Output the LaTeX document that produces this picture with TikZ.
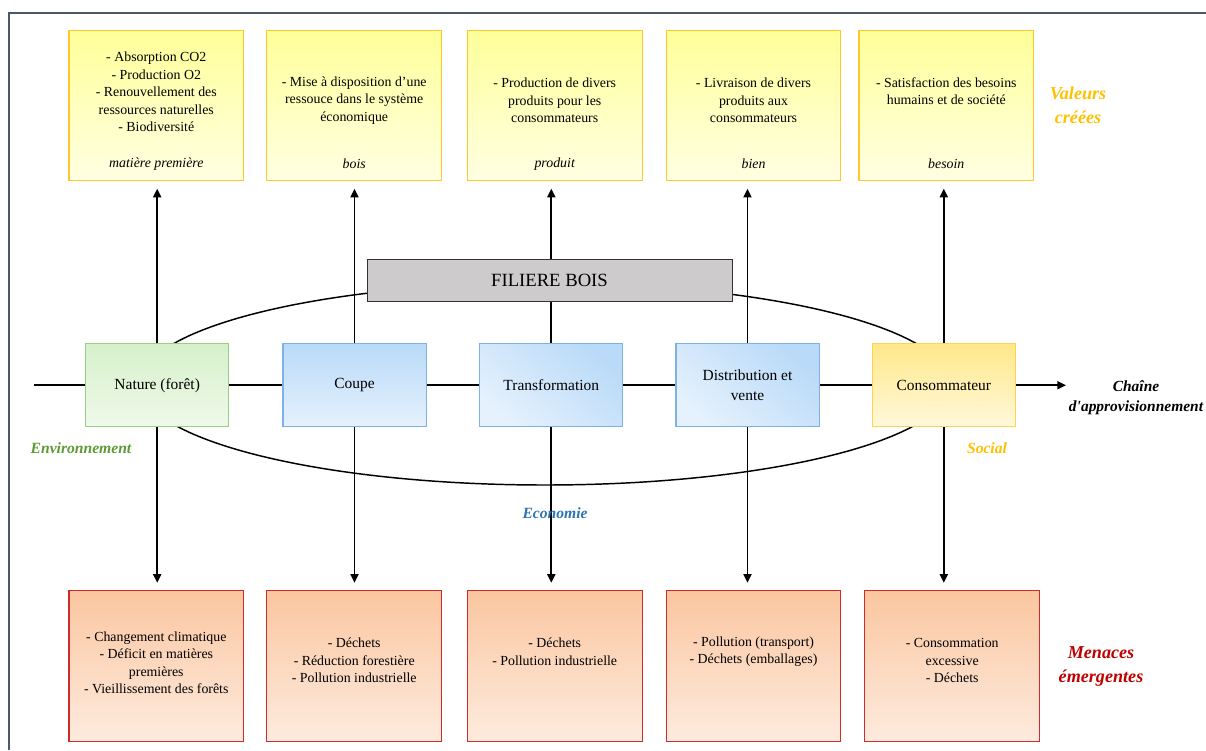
\documentclass[tikz,border=0pt]{standalone}
\usepackage{fontspec}
\setmainfont{Liberation Serif}
\newfontfamily\serifdroit{Liberation Serif}
\usetikzlibrary{arrows.meta}
\usetikzlibrary{positioning}
\definecolor{cadre}{HTML}{4B586B}
\definecolor{valhaut}{HTML}{FFFF99}
\definecolor{valbas}{HTML}{FFFFE3}
\definecolor{valbord}{HTML}{FFC72C}
\definecolor{menhaut}{HTML}{FBC6A0}
\definecolor{menbas}{HTML}{FDEBDE}
\definecolor{menbord}{HTML}{CF2B2B}
\definecolor{nathaut}{HTML}{D6F0CA}
\definecolor{natbas}{HTML}{EFF9EA}
\definecolor{natbord}{HTML}{99CE86}
\definecolor{ecohaut}{HTML}{B9DAF8}
\definecolor{ecobas}{HTML}{E5F1FD}
\definecolor{ecobord}{HTML}{7EB2E4}
\definecolor{sochaut}{HTML}{FFE88A}
\definecolor{socbas}{HTML}{FFF8DB}
\definecolor{socbord}{HTML}{FFD24F}
\definecolor{filgris}{HTML}{CDCBCB}
\definecolor{vert}{HTML}{5E9A35}
\definecolor{bleu}{HTML}{2E74B5}
\definecolor{or}{HTML}{FFC000}
\definecolor{rouge}{HTML}{C00000}

\begin{document}
\begin{tikzpicture}[x=.75pt, y=-.75pt,
  valeur/.style={draw=valbord, line width=.8pt, top color=valhaut, bottom color=valbas, minimum width=131pt, minimum height=112.8pt},
  menace/.style={draw=menbord, line width=.8pt, top color=menhaut, bottom color=menbas, minimum width=131pt, minimum height=112.7pt},
  etape/.style={line width=.8pt, minimum width=107.3pt, minimum height=62.3pt, align=center, font=\fontsize{11.6}{15}\selectfont},
  txt/.style={align=center, font=\fontsize{10.4}{13.1}\selectfont},
  titre/.style={align=center, font=\fontsize{13.6}{18}\selectfont\bfseries\itshape},
  pole/.style={font=\fontsize{11.7}{15}\selectfont\bfseries\itshape},
  fleche/.style={-{Triangle[width=6pt,length=6.5pt]}, line width=1.4pt}
]
\useasboundingbox[fill=white] (0,0) rectangle (1206,750);
\draw[cadre, line width=1.5pt] (9,750) -- (9,13) -- (1206,13);

% valeurs creees
\foreach \i/\x in {1/156.3, 2/354.2, 3/554.7, 4/753.5, 5/946.3}
  \node[valeur] (v\i) at (\x,105.5) {};
\node[txt] (v1t) at (156.3,92) {- Absorption CO2\\- Production O2\\- Renouvellement des\\ressources naturelles\\- Biodiversité};
\node[txt] (v2t) at (354.2,100.5) {- Mise à disposition d'une\\ressouce dans le système\\économique};
\node[txt] (v3t) at (554.7,100.5) {- Production de divers\\produits pour les\\consommateurs};
\node[txt] (v4t) at (753.5,100.5) {- Livraison de divers\\produits aux\\consommateurs};
\node[txt] (v5t) at (946.3,91) {- Satisfaction des besoins\\humains et de société};
\foreach \i/\x/\t in {1/156.3/matière première, 2/354.2/bois, 3/554.7/produit, 4/753.5/bien, 5/946.3/besoin}
  \node[txt, font=\fontsize{10.4}{13.1}\selectfont\itshape] (v\i l) at (\x,164) {\t};

% menaces emergentes
\foreach \i/\x in {1/156.3, 2/354.2, 3/554.7, 4/753.5, 5/952.2}
  \node[menace] (b\i) at (\x,665.9) {};
\node[txt] (b1t) at (156.3,662.8) {- Changement climatique\\- Déficit en matières\\premières\\- Vieillissement des forêts};
\node[txt] (b2t) at (354.2,660.5) {- Déchets\\- Réduction forestière\\- Pollution industrielle};
\node[txt] (b3t) at (554.7,651.6) {- Déchets\\- Pollution industrielle};
\node[txt] (b4t) at (753.5,651.6) {- Pollution (transport)\\- Déchets (emballages)};
\node[txt] (b5t) at (952.2,660.5) {- Consommation\\excessive\\- Déchets};

% filiere
\draw[line width=1.1pt] (545,384) ellipse [x radius=303.75pt, y radius=75.75pt];

\node[etape, draw=natbord, top color=nathaut, bottom color=natbas] (m1) at (157.2,385.2) {Nature (forêt)};
\node[etape, draw=ecobord, top color=ecohaut, bottom color=ecobas] (m2) at (354.5,385.2) {Coupe};
\node[etape, draw=ecobord, top color=ecohaut, bottom color=ecobas, shading angle=-40] (m3) at (551.3,385.2) {Transformation};
\node[etape, draw=ecobord, top color=ecohaut, bottom color=ecobas, shading angle=-40] (m4) at (747.5,385.2) {Distribution et\\vente};
\node[etape, draw=socbord, top color=sochaut, bottom color=socbas] (m5) at (943.8,385.2) {Consommateur};

\foreach \i in {1,...,5} {
  \draw[fleche, shorten >=5.6pt] (m\i.north) -- (m\i.north |- v\i.south);
  \draw[fleche, shorten >=5.6pt] (m\i.south) -- (m\i.south |- b\i.north);
}

\node[draw=black!80, line width=.7pt, fill=filgris, minimum width=273.75pt, minimum height=31.5pt, font=\fontsize{14}{16}\selectfont] (fb) at (549.5,280) {FILIERE BOIS};

% chaine
\coordinate (debut) at (34,385.2);
\coordinate (fin) at (1066,385.2);
\draw[line width=1.4pt] (debut) -- (m1);
\foreach \a/\b in {1/2, 2/3, 3/4, 4/5}
  \draw[line width=1.4pt] (m\a) -- (m\b);
\draw[fleche] (m5) -- (fin);
\node[pole, align=center, font=\fontsize{11.6}{15}\serifdroit\bfseries\itshape] (chaine) at (1136,398) {Chaîne\\d'approvisionnement};

\node[titre, text=or] (valeurs) at (1078,105) {Valeurs\\créées};
\node[titre, text=rouge] (menaces) at (1101,666.5) {Menaces\\émergentes};
\node[pole, text=vert] (env) at (81,448) {Environnement};
\node[pole, text=bleu] (eco) at (555,513) {Economie};
\node[pole, text=or] (soc) at (987,448) {Social};
\end{tikzpicture}
\end{document}
